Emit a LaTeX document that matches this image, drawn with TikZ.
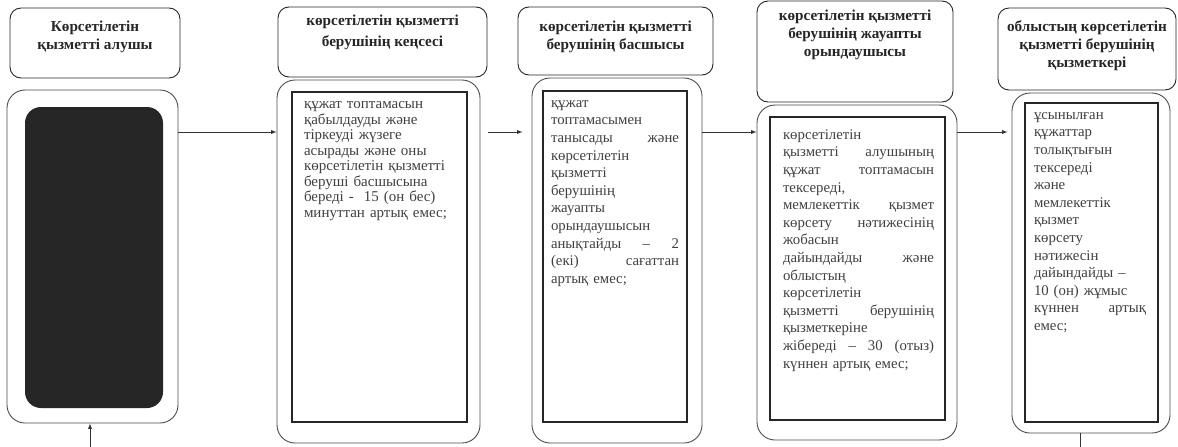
\documentclass[tikz,border=0pt]{standalone}
\usepackage{fontspec}
\setmainfont{Liberation Serif}
\usetikzlibrary{arrows,positioning}

\newcommand{\gap}{\hspace{0pt plus 1filll}}

\tikzset{
  headbox/.style={draw=black!85, line width=.9pt, rounded corners=11pt},
  headtext/.style={font=\bfseries\fontsize{15.2}{18}\selectfont, align=center, inner sep=0pt, text=black!85},
  outerbox/.style={draw=black!70, line width=.9pt, rounded corners=18pt},
  framebox/.style={draw=black!85, line width=2.4pt},
  bodytext/.style={font=\fontsize{14.8}{17.6}\selectfont, align=left, inner sep=0pt, text=black!75,
    execute at begin node=\strut},
  flow/.style={draw=black!80, line width=.9pt, -latex},
}

\begin{document}
\begin{tikzpicture}[x=1pt,y=-1pt]
\useasboundingbox (0,0) rectangle (1178,447);

% headers
\node[headbox, minimum width=170pt, minimum height=70pt] (h1) at (95,43) {};
\node[headbox, minimum width=209pt, minimum height=70pt] (h2) at (382.5,42) {};
\node[headbox, minimum width=195pt, minimum height=68pt] (h3) at (615.5,41) {};
\node[headbox, minimum width=196pt, minimum height=101pt] (h4) at (855,51.5) {};
\node[headbox, minimum width=178pt, minimum height=82pt] (h5) at (1087,49) {};

\node[headtext, below=13pt of h1.north] (n1) {Көрсетілетін\\қызметті алушы};
\node[headtext, below=8pt of h2.north, font=\bfseries\fontsize{15.2}{21}\selectfont] (n2) {көрсетілетін қызметті\\берушінің кеңсесі};
\node[headtext, below=14pt of h3.north] (n3) {көрсетілетін қызметті\\берушінің басшысы};
\node[headtext, below=9pt of h4.north] (n4) {көрсетілетін қызметті\\берушінің жауапты\\орындаушысы};
\node[headtext, below=13pt of h5.north] (n5) {облыстың көрсетілетін\\қызметті берушінің\\қызметкері};

% columns
\node[outerbox, minimum width=171pt, minimum height=333pt] (o1) at (92.5,256.5) {};
\node[outerbox, minimum width=203pt, minimum height=363pt] (o2) at (378.5,261.5) {};
\node[outerbox, minimum width=170pt, minimum height=365pt] (o3) at (617,260.5) {};
\node[outerbox, minimum width=200pt, minimum height=335pt] (o4) at (857,272.5) {};
\node[outerbox, minimum width=158pt, minimum height=340pt] (o5) at (1091,263) {};

\node[fill=black!85, rounded corners=16pt, minimum width=138pt, minimum height=301pt] (i1) at (94,257.5) {};
\node[framebox, minimum width=175pt, minimum height=330pt] (i2) at (379.5,257) {};
\node[framebox, minimum width=144pt, minimum height=331pt] (i3) at (615,256.5) {};
\node[framebox, minimum width=175pt, minimum height=303pt] (i4) at (857.5,268.5) {};
\node[framebox, minimum width=133pt, minimum height=319pt] (i5) at (1091.5,262.5) {};

\node[bodytext, font=\fontsize{15}{15.5}\selectfont, text width=160pt, below right=7pt and 13pt of i2.north west] (t2)
  {құжат топтамасын\\
   қабылдауды және\\
   тіркеуді жүзеге\\
   асырады және оны\\
   көрсетілетін қызметті\\
   беруші басшысына\\
   береді -\ \ 15 (он бес)\\
   минуттан артық емес;};
\node[bodytext, text width=128pt, below right=5pt and 9pt of i3.north west] (t3)
  {құжат\\
   топтамасымен\\
   танысады\gap және\\
   көрсетілетін\\
   қызметті\\
   берушінің\\
   жауапты\\
   орындаушысын\\
   анықтайды\gap –\gap 2\\
   (екі)\gap сағаттан\\
   артық емес;};
\node[bodytext, text width=151pt, below right=11pt and 14pt of i4.north west] (t4)
  {көрсетілетін\\
   қызметті\gap алушының\\
   құжат\gap топтамасын\\
   тексереді,\\
   мемлекеттік\gap қызмет\\
   көрсету\gap нәтижесінің\\
   жобасын\\
   дайындайды\gap және\\
   облыстың\\
   көрсетілетін\\
   қызметті\gap берушінің\\
   қызметкеріне\\
   жібереді\gap –\gap 30\gap (отыз)\\
   күннен артық емес;};
\node[bodytext, text width=112pt, below right=5pt and 10pt of i5.north west] (t5)
  {ұсынылған\\
   құжаттар\\
   толықтығын\\
   тексереді\\
   және\\
   мемлекеттік\\
   қызмет\\
   көрсету\\
   нәтижесін\\
   дайындайды –\\
   10 (он) жұмыс\\
   күннен\gap артық\\
   емес;};

% connectors
\coordinate (ya) at (0,132);
\coordinate (src) at (90,447);
\coordinate (sink) at (1080,447);
\draw[flow] (o1.east |- ya) -- (o2.west |- ya);
\draw[flow, shorten <=8pt, shorten >=9pt] (o2.east |- ya) -- (o3.west |- ya);
\draw[flow] (o3.east |- ya) -- (o4.west |- ya);
\draw[flow, shorten >=4pt] (o4.east |- ya) -- (o5.west |- ya);
\draw[flow] (src) -- (src |- o1.south);
\draw[draw=black!80, line width=.9pt] (sink |- o5.south) -- (sink);
\end{tikzpicture}
\end{document}
